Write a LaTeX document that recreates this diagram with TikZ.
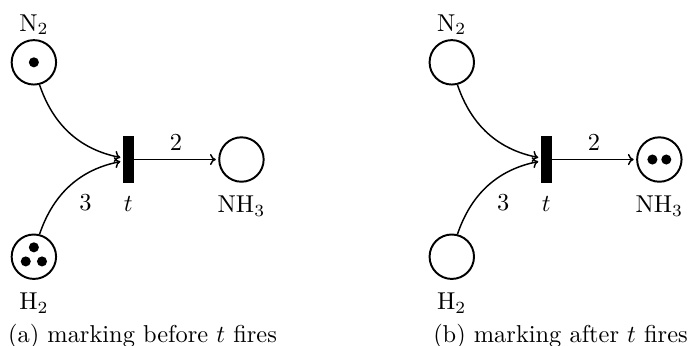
\documentclass[tikz,border=0pt]{standalone}
\usetikzlibrary{petri,positioning,arrows.meta}
\begin{document}
\begin{tikzpicture}[
  >={To[length=2.4pt,width=4.6pt]},
  every place/.style={draw,thick,minimum size=6.4mm,inner sep=0pt},
  every transition/.style={fill=black,minimum width=1.45mm,minimum height=6.7mm,inner sep=0pt},
  token/.append style={minimum size=1.45mm},
  every label/.append style={yshift=-1.8pt},
  token distance=2mm,
  arc/.style={post,semithick}
]
\useasboundingbox (-1.848,-2.672) rectangle (8.077,2.298);
% (a) before firing
\node[transition,label=below:$t$] (t1) at (0,0) {};
\node[place,tokens=1,label=above:N$_2$] (n1) at (-1.36,1.40) {};
\node[place,label=below:H$_2$] (h1) at (-1.36,-1.40) {};
\node[token] (h1a) at (-1.36,-1.265) {};
\node[token] (h1b) at (-1.477,-1.468) {};
\node[token] (h1c) at (-1.243,-1.468) {};
\node[place,label=below:NH$_3$] (a1) at (1.63,0) {};
\draw[arc] (n1) to[bend right=30] (t1);
\draw[arc] (h1) to[bend left=30] node[swap,auto] {3} (t1);
\draw[arc] (t1) -- node[above] {2} (a1);
\node[anchor=base] (capa) at (0.205,-2.64) {(a) marking before $t$ fires};
% (b) after firing
\node[transition,label=below:$t$] (t2) at (6.02,0) {};
\node[place,label=above:N$_2$] (n2) at (4.66,1.40) {};
\node[place,label=below:H$_2$] (h2) at (4.66,-1.40) {};
\node[place,tokens=2,label=below:NH$_3$] (a2) at (7.65,0) {};
\draw[arc] (n2) to[bend right=30] (t2);
\draw[arc] (h2) to[bend left=30] node[swap,auto] {3} (t2);
\draw[arc] (t2) -- node[above] {2} (a2);
\node[anchor=base] (capb) at (6.226,-2.64) {(b) marking after $t$ fires};
\end{tikzpicture}
\end{document}
